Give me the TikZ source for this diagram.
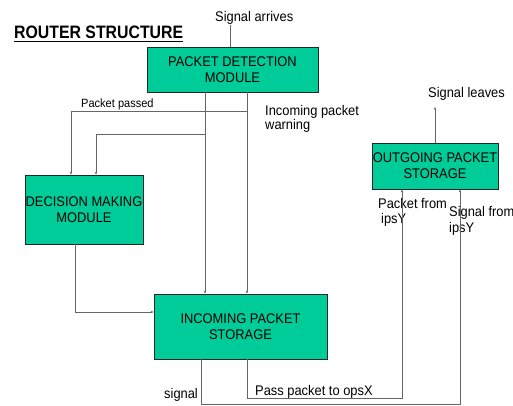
\documentclass[tikz,border=0pt]{standalone}
\usepackage{fontspec}
\setmainfont{Liberation Sans}
\usetikzlibrary{arrows.meta}
\newcommand\cn[1]{\scalebox{0.92}[1]{#1}}
\begin{document}
\begin{tikzpicture}[x=1pt,y=-1pt,
  box/.style={draw=black!85,line width=0.8pt,fill={rgb,255:red,0;green,204;blue,153},
    minimum width=#1,inner sep=0pt,align=center,font=\fontsize{14}{16}\selectfont},
  lbl/.style={inner sep=0pt,anchor=base west,font=\fontsize{14}{16}\selectfont},
  conn/.style={draw=black!60,line width=0.8pt},
  arr/.style={conn,-{Stealth[length=3pt,width=2.5pt]}}]
\useasboundingbox (0,0) rectangle (513,406);

% boxes
\node[box=171pt,minimum height=45pt] (pdm) at (232.5,69.5) {\cn{PACKET DETECTION}\\\cn{MODULE}};
\node[box=118pt,minimum height=69pt] (dmm) at (84,209.5) {\cn{DECISION MAKING}\\\cn{MODULE}};
\node[box=173pt,minimum height=65pt] (ips) at (240.5,326.5) {\cn{INCOMING PACKET}\\\cn{STORAGE}};
\node[box=126pt,minimum height=46pt] (ops) at (435,166) {\cn{OUTGOING PACKET}\\\cn{STORAGE}};

% title
\node[lbl,font=\fontsize{18}{20}\selectfont\bfseries] (title) at (14,39) {\scalebox{0.88}[1]{ROUTER STRUCTURE}};
\draw[line width=1.3pt] ([yshift=-2.3pt]title.south west) -- ([yshift=-2.3pt]title.south east);

% labels
\node[lbl] (sa) at (215,22) {\cn{Signal arrives}};
\node[lbl,font=\fontsize{12}{14}\selectfont] (pp) at (81,108) {\cn{Packet passed}};
\node[lbl] (ipw1) at (265,116) {\cn{Incoming packet}};
\node[lbl] (ipw2) at (265,130) {\cn{warning}};
\node[lbl] (sl) at (428,98) {\cn{Signal leaves}};
\node[lbl] (pf1) at (378,208) {\cn{Packet from}};
\node[lbl] (pf2) at (381,223) {\cn{ipsY}};
\node[lbl] (sf1) at (449,216) {\cn{Signal from}};
\node[lbl] (sf2) at (449,232) {\cn{ipsY}};
\node[lbl] (sig) at (164,398) {\cn{signal}};
\node[lbl] (pass) at (255,395) {\cn{Pass packet to opsX}};

% junction / corner coordinates
\coordinate (in) at (230,25);
\coordinate (j1) at (247,111);
\coordinate (j2) at (205,134);
\coordinate (out) at (435,107);

% connectors
\draw[conn] (in) -- (in |- pdm.north);
\draw[arr] (205,0 |- pdm.south) -- (205,0 |- ips.north);
\draw[arr] (247,0 |- pdm.south) -- (247,0 |- ips.north);
\draw[arr] (j1) -- (71,111) -- (71,0 |- dmm.north);
\draw[arr] (j2) -- (96,134) -- (96,0 |- dmm.north);
\draw[arr] (75,0 |- dmm.south) -- (75,312) -- (ips.west |- 0,312);
\draw[arr] (201,0 |- ips.south) -- (201,404) -- (460,404) -- (460,0 |- ops.south);
\draw[arr] (247,0 |- ips.south) -- (247,398) -- (402,398) -- (402,0 |- ops.south);
\draw[arr] (ops.north) -- (out);
\end{tikzpicture}
\end{document}
